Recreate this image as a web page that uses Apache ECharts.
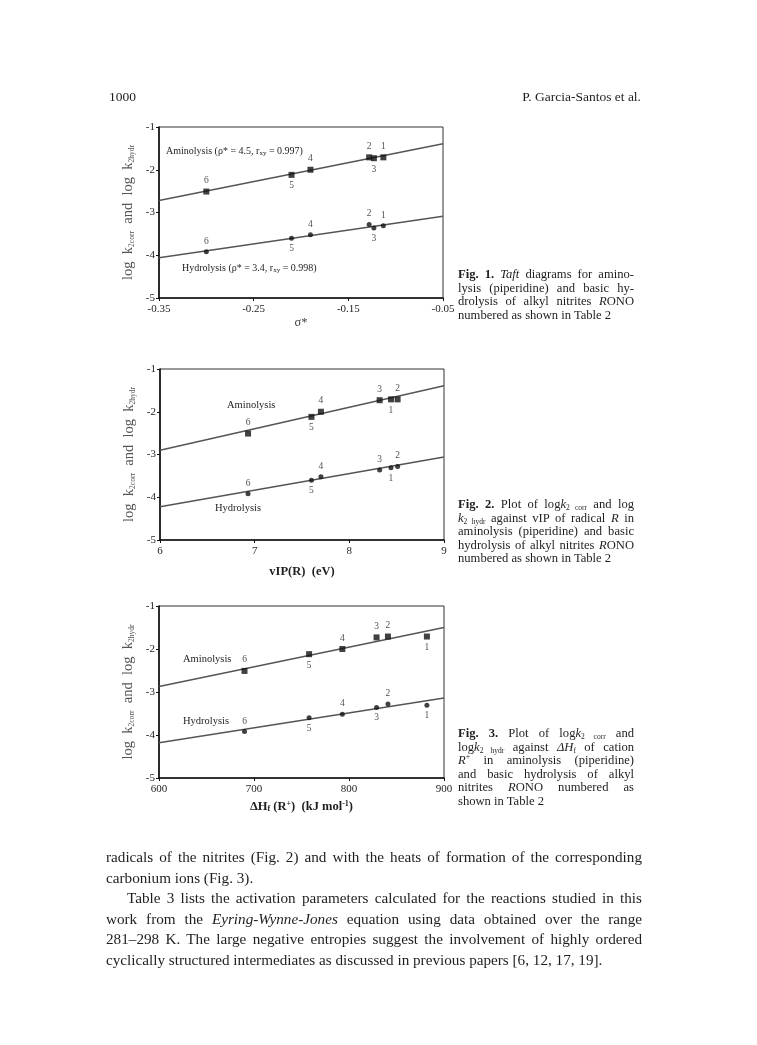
<!DOCTYPE html>
<html><head><meta charset="utf-8">
<script src="https://cdn.jsdelivr.net/npm/echarts@6/dist/echarts.min.js"></script>
<style>
body{margin:0;background:#fff;}
#page{position:relative;width:757px;height:1045px;overflow:hidden;font-family:"Liberation Serif","DejaVu Serif",serif;color:#1e1e1e;}
#chart{position:absolute;left:0;top:0;width:757px;height:1045px;}
.t{position:absolute;line-height:16px;}
.cap{position:absolute;left:458px;width:176px;font-size:12.6px;line-height:13.6px;}
.cap div{text-align:justify;text-align-last:justify;}
.cap div.last{text-align-last:left;}
.cap sub{font-size:7.5px;vertical-align:-2px;line-height:0;}
.cap sup{font-size:8px;line-height:0;}
.body{position:absolute;left:106px;width:536px;top:847px;font-size:15.2px;line-height:20.6px;}
.body div{text-align:justify;text-align-last:justify;}
.body div.last{text-align-last:left;}
</style></head>
<body><div id="page">
<div id="chart"></div>
<div class="t" style="left:109px;top:89px;font-size:13.5px;">1000</div>
<div class="t" style="left:401px;width:240px;top:89px;font-size:13.5px;text-align:right;">P. Garcia-Santos et al.</div>

<div class="cap" style="top:268px;">
<div><b>Fig. 1.</b> <i>Taft</i> diagrams for amino-</div>
<div>lysis (piperidine) and basic hy-</div>
<div>drolysis of alkyl nitrites <i>R</i>ONO</div>
<div class="last">numbered as shown in Table 2</div>
</div>

<div class="cap" style="top:498px;">
<div><b>Fig. 2.</b> Plot of log<i>k</i><sub>2 corr</sub> and log</div>
<div><i>k</i><sub>2 hydr</sub> against vIP of radical <i>R</i> in</div>
<div>aminolysis (piperidine) and basic</div>
<div>hydrolysis of alkyl nitrites <i>R</i>ONO</div>
<div class="last">numbered as shown in Table 2</div>
</div>

<div class="cap" style="top:727px;">
<div><b>Fig. 3.</b> Plot of log<i>k</i><sub>2 corr</sub> and</div>
<div>log<i>k</i><sub>2 hydr</sub> against <i>ΔH</i><sub>f</sub> of cation</div>
<div><i>R</i><sup>+</sup> in aminolysis (piperidine)</div>
<div>and basic hydrolysis of alkyl</div>
<div>nitrites <i>R</i>ONO numbered as</div>
<div class="last">shown in Table 2</div>
</div>

<div class="body">
<div>radicals of the nitrites (Fig. 2) and with the heats of formation of the corresponding</div>
<div class="last">carbonium ions (Fig. 3).</div>
<div style="text-indent:21px;">Table 3 lists the activation parameters calculated for the reactions studied in this</div>
<div>work from the <i>Eyring-Wynne-Jones</i> equation using data obtained over the range</div>
<div>281–298 K. The large negative entropies suggest the involvement of highly ordered</div>
<div class="last">cyclically structured intermediates as discussed in previous papers [6, 12, 17, 19].</div>
</div>
</div>
<script>
// compounds numbered 1..6 (Table 2)
const compounds = ['1','2','3','4','5','6'];
// Fig. 1 : Taft sigma*
const sigmaStar = [-0.113, -0.128, -0.123, -0.19, -0.21, -0.30];
// Fig. 2 : vIP(R) (eV)
const vIP = [8.44, 8.51, 8.32, 7.70, 7.60, 6.93];
// Fig. 3 : dHf(R+) (kJ/mol)
const dHf = [882, 841, 829, 793, 758, 690];
// log k2corr (aminolysis) and log k2hydr (hydrolysis)
const aminoLogK = [-1.71, -1.71, -1.73, -2.0, -2.12, -2.51];
const hydroLogK = [-3.31, -3.28, -3.36, -3.52, -3.60, -3.92];
// regression lines (end points)
const fit1Amino = [[-0.35, -2.72], [-0.05, -1.39]];
const fit1Hydro = [[-0.35, -4.06], [-0.05, -3.09]];
const fit2Amino = [[6, -2.90], [9, -1.39]];
const fit2Hydro = [[6, -4.22], [9, -3.06]];
const fit3Amino = [[600, -2.87], [900, -1.50]];
const fit3Hydro = [[600, -4.18], [900, -3.14]];
// tick labels
const xTicks1 = [-0.35, -0.25, -0.15, -0.05];
const xTicks2 = [6, 7, 8, 9];
const xTicks3 = [600, 700, 800, 900];
const yTicks = [-5, -4, -3, -2, -1];
// label placement of compound numbers
const lab1A = ['top','top','bottom','top','bottom','top'];
const lab1H = ['top','top','bottom','top','bottom','top'];
const lab2A = ['bottom','top','top','top','bottom','top'];
const lab2H = ['bottom','top','top','top','bottom','top'];
const lab3A = ['bottom','top','top','top','bottom','top'];
const lab3H = ['bottom','top','bottom','top','bottom','top'];

const FF = '"Liberation Serif","DejaVu Serif",serif';
const INK = '#1e1e1e';
const chart = echarts.init(document.getElementById('chart'), null, {renderer:'canvas'});

const grids = [
  {left:159, top:127, width:284, height:171},
  {left:160, top:369, width:284, height:171},
  {left:159, top:606, width:285, height:172}
].map(g => Object.assign(g, {show:true, borderColor:'#333', borderWidth:1, backgroundColor:'transparent'}));

const yName = '{n|log  k}{s|2corr}{n|  and  log  k}{s|2hydr}';
const yAxes = [0,1,2].map(i => ({
  type:'value', gridIndex:i, min:yTicks[0], max:yTicks[yTicks.length-1], interval:1,
  axisLine:{show:true, lineStyle:{color:'#111', width:1.6}},
  axisTick:{show:true, length:3, lineStyle:{color:'#111'}},
  axisLabel:{fontSize:11, fontFamily:FF, color:INK, margin:4},
  splitLine:{show:false},
  name:yName, nameLocation:'middle', nameRotate:90, nameGap:23,
  nameTextStyle:{color:'#555', rich:{
    n:{fontSize:14.5, fontFamily:FF, color:'#555'},
    s:{fontSize:7.5, fontFamily:FF, color:'#555', verticalAlign:'bottom', padding:[7,0,0,0]}
  }}
}));

const xCommon = (i) => ({
  type:'value', gridIndex:i,
  axisLine:{show:true, onZero:false, lineStyle:{color:'#111', width:1.6}},
  axisTick:{show:true, length:3, lineStyle:{color:'#111'}},
  axisLabel:{fontSize:11, fontFamily:FF, color:INK, margin:6},
  splitLine:{show:false},
  nameLocation:'middle'
});
const xAxes = [
  Object.assign(xCommon(0), {min:xTicks1[0], max:xTicks1[3],
    axisLabel:{fontSize:11, fontFamily:FF, color:INK, margin:6, customValues:xTicks1, formatter:v=>v.toFixed(2)},
    axisTick:{show:true, length:3, lineStyle:{color:'#111'}, customValues:xTicks1},
    name:'σ*', nameGap:18, nameTextStyle:{fontSize:12.5, fontFamily:FF, color:'#444'}}),
  Object.assign(xCommon(1), {min:xTicks2[0], max:xTicks2[3], interval:1,
    name:'vIP(R)  (eV)', nameGap:25, nameTextStyle:{fontSize:12.5, fontWeight:'bold', fontFamily:FF, color:INK}}),
  Object.assign(xCommon(2), {min:xTicks3[0], max:xTicks3[3], interval:100,
    name:'{b|ΔH}{bs|f}{b| (R}{bp|+}{b|)  (kJ mol}{bp|-1}{b|)}', nameGap:22,
    nameTextStyle:{rich:{
      b:{fontSize:12.5, fontWeight:'bold', fontFamily:FF, color:INK},
      bs:{fontSize:8, fontWeight:'bold', fontFamily:FF, color:INK, verticalAlign:'bottom', padding:[5,0,0,0]},
      bp:{fontSize:8, fontWeight:'bold', fontFamily:FF, color:INK, verticalAlign:'top', padding:[0,0,5,0]}
    }}})
];

function pts(xs, ys, pos) {
  return xs.map((x, i) => ({value:[x, ys[i]], name:compounds[i], label:{position:pos[i]}}));
}
function lineSeries(i, data) {
  return {type:'line', xAxisIndex:i, yAxisIndex:i, data:data, symbol:'none', silent:true,
    lineStyle:{color:'#555', width:1.5}, z:2};
}
function scatterSeries(i, data, sym, size) {
  return {type:'scatter', xAxisIndex:i, yAxisIndex:i, data:data, symbol:sym, symbolSize:size,
    itemStyle:{color:'#111'}, z:3,
    label:{show:true, formatter:p=>p.name, fontSize:9.5, fontFamily:FF, color:INK, distance:3}};
}

const series = [
  lineSeries(0, fit1Amino), lineSeries(0, fit1Hydro),
  scatterSeries(0, pts(sigmaStar, aminoLogK, lab1A), 'rect', 6),
  scatterSeries(0, pts(sigmaStar, hydroLogK, lab1H), 'circle', 5),
  lineSeries(1, fit2Amino), lineSeries(1, fit2Hydro),
  scatterSeries(1, pts(vIP, aminoLogK, lab2A), 'rect', 6),
  scatterSeries(1, pts(vIP, hydroLogK, lab2H), 'circle', 5),
  lineSeries(2, fit3Amino), lineSeries(2, fit3Hydro),
  scatterSeries(2, pts(dHf, aminoLogK, lab3A), 'rect', 6),
  scatterSeries(2, pts(dHf, hydroLogK, lab3H), 'circle', 5)
];

const annRich = {
  a:{fontSize:10, fontFamily:FF, fill:INK},
  s:{fontSize:7, fontFamily:FF, fill:INK, verticalAlign:'bottom', padding:[5,0,0,0]}
};
function ann(x, y, text, rich) {
  return {type:'text', x:x, y:y, silent:true, z:10,
    style:{text:text, rich:rich||undefined, fontSize:10.5, fontFamily:FF, fill:INK, verticalAlign:'middle'}};
}

chart.setOption({
  backgroundColor:'#fff',
  animation:false,
  grid:grids, xAxis:xAxes, yAxis:yAxes, series:series,
  graphic:[
    ann(166, 151, '{a|Aminolysis (ρ* = 4.5, r}{s|xy}{a| = 0.997)}', annRich),
    ann(182, 268, '{a|Hydrolysis (ρ* = 3.4, r}{s|xy}{a| = 0.998)}', annRich),
    ann(227, 405, 'Aminolysis'),
    ann(215, 508, 'Hydrolysis'),
    ann(183, 659, 'Aminolysis'),
    ann(183, 721, 'Hydrolysis')
  ]
});
</script>
</body></html>
